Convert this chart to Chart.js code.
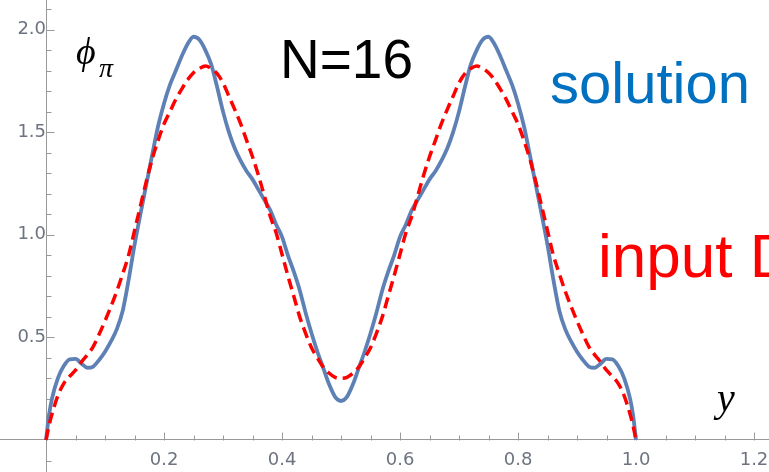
<!DOCTYPE html>
<html>
<head>
<meta charset="utf-8">
<script src="https://cdn.jsdelivr.net/npm/chart.js@4.4.1/dist/chart.umd.min.js"></script>
<style>
    html, body { margin: 0; padding: 0; background: #fff; }
    #wrap { width: 769px; height: 472px; position: relative; }
</style>
</head>
<body>
<div id="wrap"><canvas id="chartPhi"></canvas></div>
<script>
var xs = [0, 0.005, 0.01, 0.02, 0.03, 0.04, 0.05, 0.06, 0.07, 0.08, 0.09,
    0.10, 0.11, 0.12, 0.13, 0.14, 0.15, 0.16, 0.17, 0.18, 0.19,
    0.20, 0.21, 0.22, 0.23, 0.24, 0.25, 0.26, 0.27, 0.28, 0.29,
    0.30, 0.31, 0.32, 0.33, 0.34, 0.35, 0.36, 0.37, 0.38, 0.39,
    0.40, 0.41, 0.42, 0.43, 0.44, 0.45, 0.46, 0.47, 0.48, 0.49,
    0.50, 0.51, 0.52, 0.53, 0.54, 0.55, 0.56, 0.57, 0.58, 0.59,
    0.60, 0.61, 0.62, 0.63, 0.64, 0.65, 0.66, 0.67, 0.68, 0.69,
    0.70, 0.71, 0.72, 0.73, 0.74, 0.75, 0.76, 0.77, 0.78, 0.79,
    0.80, 0.81, 0.82, 0.83, 0.84, 0.85, 0.86, 0.87, 0.88, 0.89,
    0.90, 0.91, 0.92, 0.93, 0.94, 0.95, 0.96, 0.97, 0.98, 0.99, 0.995, 1.0];

// blue solid curve
var solution = [0, 0.12, 0.20, 0.30, 0.36, 0.393, 0.395, 0.372, 0.352, 0.358, 0.39,
    0.43, 0.48, 0.54, 0.63, 0.78, 0.95, 1.10, 1.245, 1.39, 1.53,
    1.64, 1.73, 1.80, 1.87, 1.93, 1.965, 1.95, 1.90, 1.83, 1.72,
    1.60, 1.50, 1.42, 1.36, 1.31, 1.27, 1.22, 1.17, 1.12, 1.05,
    0.99, 0.90, 0.82, 0.73, 0.62, 0.52, 0.43, 0.35, 0.27, 0.21,
    0.19, 0.21, 0.27, 0.35, 0.43, 0.52, 0.62, 0.73, 0.82, 0.90,
    0.99, 1.05, 1.12, 1.17, 1.22, 1.27, 1.31, 1.36, 1.42, 1.50,
    1.60, 1.72, 1.83, 1.90, 1.95, 1.965, 1.93, 1.87, 1.80, 1.73,
    1.64, 1.53, 1.39, 1.245, 1.10, 0.95, 0.78, 0.63, 0.54, 0.48,
    0.43, 0.39, 0.358, 0.352, 0.372, 0.395, 0.393, 0.36, 0.30, 0.20, 0.12, 0];

// red dashed curve
var inputDA = [0, 0.07, 0.125, 0.215, 0.275, 0.31, 0.34, 0.38, 0.415, 0.455, 0.515,
    0.58, 0.65, 0.725, 0.81, 0.90, 1.02, 1.14, 1.26, 1.37, 1.46,
    1.54, 1.60, 1.66, 1.71, 1.755, 1.79, 1.81, 1.822, 1.81, 1.785,
    1.74, 1.675, 1.61, 1.54, 1.46, 1.38, 1.29, 1.19, 1.09, 1.01,
    0.905, 0.80, 0.70, 0.60, 0.52, 0.45, 0.40, 0.355, 0.325, 0.305,
    0.30, 0.305, 0.325, 0.355, 0.40, 0.45, 0.52, 0.60, 0.70, 0.80,
    0.905, 1.01, 1.09, 1.19, 1.29, 1.38, 1.46, 1.54, 1.61, 1.675,
    1.74, 1.785, 1.81, 1.822, 1.81, 1.79, 1.755, 1.71, 1.66, 1.60,
    1.54, 1.46, 1.37, 1.26, 1.14, 1.02, 0.90, 0.81, 0.725, 0.65,
    0.58, 0.515, 0.455, 0.415, 0.38, 0.34, 0.31, 0.275, 0.215, 0.125, 0.07, 0];

var xTicks = [0.2, 0.4, 0.6, 0.8, 1.0, 1.2];
var yTicks = [0.5, 1.0, 1.5, 2.0];

function toPoints(ys) {
    return xs.map(function (x, i) { return { x: x, y: ys[i] }; });
}

// axes sit inside the plot, so their labels should not shrink the chart area
function noPadding(scale) {
    scale.paddingTop = 0;
    scale.paddingBottom = 0;
    scale.paddingLeft = 0;
    scale.paddingRight = 0;
}

// small tick marks on the axes (drawn inward, like the original plot) + text
var axisTicks = {
    id: 'axisTicks',
    beforeDatasetsDraw: function (chart) {
        var ctx = chart.ctx, sx = chart.scales.x, sy = chart.scales.y;
        var x0 = Math.round(sx.getPixelForValue(0)) + 0.5;
        var y0 = Math.round(sy.getPixelForValue(0)) + 0.5;
        ctx.save();
        ctx.strokeStyle = '#999';
        ctx.lineWidth = 1;
        ctx.beginPath();
        for (var i = 1; i <= 24; i++) {
            var px = Math.round(sx.getPixelForValue(i * 0.05)) + 0.5;
            var len = i % 4 === 0 ? 8 : 5;
            ctx.moveTo(px, y0);
            ctx.lineTo(px, y0 - len);
        }
        for (var j = -1; j <= 21; j++) {
            if (j === 0) continue;
            var py = Math.round(sy.getPixelForValue(j * 0.1)) + 0.5;
            var l2 = j % 5 === 0 ? 8 : 5;
            ctx.moveTo(x0, py);
            ctx.lineTo(x0 + l2, py);
        }
        ctx.stroke();
        ctx.restore();
    },
    afterDraw: function (chart) {
        var ctx = chart.ctx;
        ctx.save();
        ctx.textBaseline = 'alphabetic';
        ctx.textAlign = 'left';

        ctx.fillStyle = '#000';
        ctx.font = '55px "Liberation Sans"';
        ctx.fillText('N=16', 280, 78);

        ctx.fillStyle = '#0070C0';
        ctx.font = '58px "Liberation Sans"';
        ctx.fillText('solution', 550, 103);

        ctx.fillStyle = '#FF0000';
        ctx.font = '62px "Liberation Sans"';
        ctx.fillText('input DA', 598, 277);

        ctx.fillStyle = '#000';
        ctx.font = 'italic 38px "Liberation Serif"';
        ctx.fillText('\u03D5', 76, 64);
        ctx.font = 'italic 28px "Liberation Serif"';
        ctx.fillText('\u03C0', 99, 77);

        ctx.font = 'italic 40px "Liberation Serif"';
        ctx.fillText('y', 717, 411);
        ctx.restore();
    }
};

var ctxPhi = document.getElementById('chartPhi').getContext('2d');
new Chart(ctxPhi, {
    type: 'line',
    data: {
        datasets: [
            {
                label: 'input DA',
                data: toPoints(inputDA),
                borderColor: '#FF0000',
                borderWidth: 3.5,
                borderDash: [11, 6],
                pointRadius: 0,
                fill: false,
                cubicInterpolationMode: 'monotone',
                order: 0,
            },
            {
                label: 'solution',
                data: toPoints(solution),
                borderColor: '#5E81B5',
                borderWidth: 3.8,
                pointRadius: 0,
                fill: false,
                cubicInterpolationMode: 'monotone',
                order: 1,
            },
        ],
    },
    options: {
        responsive: true,
        maintainAspectRatio: false,
        animation: false,
        layout: { padding: 0 },
        plugins: {
            legend: { display: false },
            tooltip: { enabled: false },
        },
        scales: {
            x: {
                type: 'linear',
                position: { y: 0 },
                min: -0.078,
                max: 1.2254,
                afterBuildTicks: function (scale) {
                    scale.ticks = xTicks.map(function (v) { return { value: v }; });
                },
                afterFit: noPadding,
                ticks: {
                    autoSkip: false,
                    maxRotation: 0,
                    padding: 10,
                    color: '#6d7480',
                    font: { family: 'DejaVu Sans', size: 18 },
                    callback: function (v) { return Number(v).toFixed(1); },
                },
                grid: { display: false, drawTicks: false },
                border: { display: true, color: '#999', width: 1 },
            },
            y: {
                type: 'linear',
                position: { x: 0 },
                min: -0.156,
                max: 2.144,
                afterBuildTicks: function (scale) {
                    scale.ticks = yTicks.map(function (v) { return { value: v }; });
                },
                afterFit: noPadding,
                ticks: {
                    autoSkip: false,
                    padding: 4,
                    color: '#6d7480',
                    font: { family: 'DejaVu Sans', size: 18 },
                    callback: function (v) { return Number(v).toFixed(1); },
                },
                // tick marks themselves come from the plugin; the length only moves the labels
                grid: { display: false, drawTicks: true, tickLength: 4 },
                border: { display: true, color: '#999', width: 1 },
            },
        },
    },
    plugins: [axisTicks],
});
</script>
</body>
</html>
